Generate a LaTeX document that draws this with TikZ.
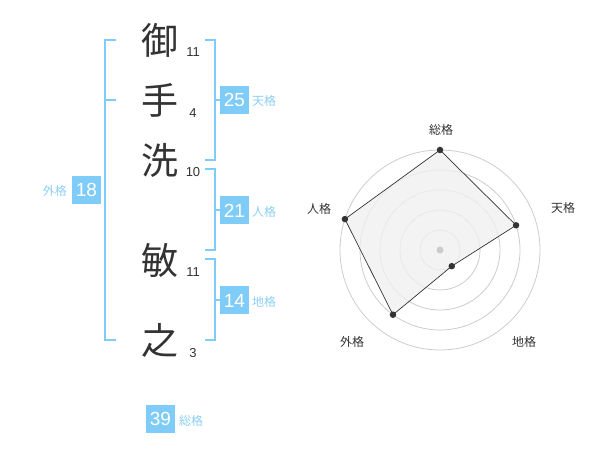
\documentclass[tikz,border=0pt]{standalone}
\usepackage{fontspec}
\usetikzlibrary{calc}
\setmainfont{Liberation Sans}
\newfontfamily\cjk{Noto Sans CJK JP}
\definecolor{boxblue}{HTML}{80CCF8}
\definecolor{lblblue}{HTML}{8CCFF5}
\definecolor{ink}{HTML}{333333}
\definecolor{ring}{HTML}{CCCCCC}
\definecolor{polyfill}{HTML}{F0F0F0}
\begin{document}
\begin{tikzpicture}[x=1pt,y=-1pt,
  kanji/.style={inner sep=0pt,text=ink,font=\cjk\fontsize{37}{37}\selectfont},
  strokes/.style={inner sep=0pt,text=ink,font=\fontsize{13}{13}\selectfont},
  valbox/.style={fill=boxblue,text=white,minimum width=29pt,minimum height=28pt,inner sep=0pt,font=\fontsize{19}{19}\selectfont},
  vallbl/.style={inner sep=0pt,text=lblblue,font=\cjk\fontsize{12}{12}\selectfont},
  brk/.style={draw=boxblue,line width=2pt},
  radlbl/.style={inner sep=0pt,text=ink,font=\cjk\fontsize{12}{12}\selectfont},
  dot/.style={circle,fill=ink,inner sep=0pt,minimum size=6.5pt}]
\useasboundingbox (0,0) rectangle (600,470);
% name characters
\node[kanji] (k1) at (160,40) {御};
\node[kanji] (k2) at (160,100) {手};
\node[kanji] (k3) at (160,160) {洗};
\node[kanji] (k4) at (160,260) {敏};
\node[kanji] (k5) at (160,340) {之};
\node[strokes] (s1) at (193,52) {11};
\node[strokes] (s2) at (193,113) {4};
\node[strokes] (s3) at (193,172) {10};
\node[strokes] (s4) at (193,272) {11};
\node[strokes] (s5) at (193,353) {3};
% brackets
\draw[brk] (116,40) -- (105,40) -- (105,340) -- (116,340);
\draw[brk] (105,100) -- (116,100);
\draw[brk] (205,40) -- (215,40) -- (215,160) -- (205,160);
\draw[brk] (215,100) -- (220,100);
\draw[brk] (205,169) -- (215,169) -- (215,250) -- (205,250);
\draw[brk] (215,210) -- (220,210);
\draw[brk] (205,259) -- (215,259) -- (215,340) -- (205,340);
\draw[brk] (215,300) -- (220,300);
% values
\node[valbox] (v1) at (234.5,100) {25};
\node[vallbl,anchor=west] (l1) at (252,101) {天格};
\node[valbox] (v2) at (234.5,210.5) {21};
\node[vallbl,anchor=west] (l2) at (252,212) {人格};
\node[valbox] (v3) at (234.5,300.5) {14};
\node[vallbl,anchor=west] (l3) at (252,302) {地格};
\node[valbox] (v4) at (86.5,190) {18};
\node[vallbl,anchor=east] (l4) at (67,191) {外格};
\node[valbox] (v5) at (160.5,419) {39};
\node[vallbl,anchor=west] (l5) at (179,421) {総格};
% radar
\coordinate (c) at (440,250);
\foreach \r in {20,40,60,80,100}{\draw[ring,line width=0.8pt] (c) circle[radius=\r];}
\coordinate (p1) at ($(c)+(-90:100)$);
\coordinate (p2) at ($(c)+(-18:80)$);
\coordinate (p3) at ($(c)+(54:20)$);
\coordinate (p4) at ($(c)+(126:80)$);
\coordinate (p5) at ($(c)+(198:100)$);
\fill[polyfill,opacity=0.8] (p1) -- (p2) -- (p3) -- (p4) -- (p5) -- cycle;
\draw[ink,line width=0.7pt] (p1) -- (p2) -- (p3) -- (p4) -- (p5) -- cycle;
\fill[ring] (c) circle[radius=3.5];
\foreach \p in {p1,p2,p3,p4,p5}{\node[dot] at (\p) {};}
\node[radlbl] (r1) at (441,130) {総格};
\node[radlbl] (r2) at (563,208) {天格};
\node[radlbl] (r3) at (524,342) {地格};
\node[radlbl] (r4) at (352,342) {外格};
\node[radlbl] (r5) at (319,209) {人格};
\end{tikzpicture}
\end{document}
